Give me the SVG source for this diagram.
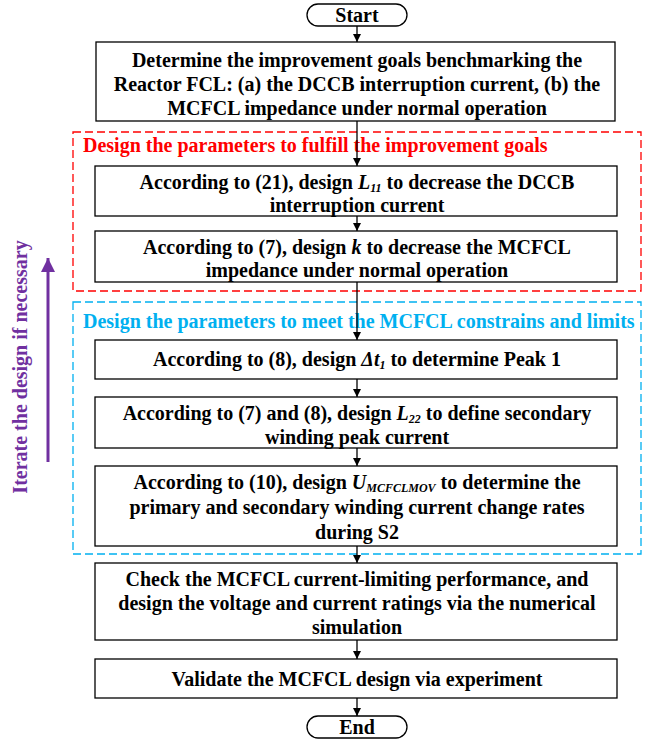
<svg xmlns="http://www.w3.org/2000/svg" width="657" height="744" viewBox="0 0 657 744">
<style>
text{font-family:"Liberation Serif","Times New Roman",serif;font-weight:bold;font-size:20px;fill:#000;text-anchor:middle}
.box{fill:#fff;stroke:#000;stroke-width:1.3}
.conn line{stroke:#000;stroke-width:1.3}
.i{font-style:italic}
.s{font-style:italic;font-size:12px}
.red{fill:#ff0000;text-anchor:start}
.blue{fill:#00b0f0;text-anchor:start}
</style>
<defs>
<marker id="ah" viewBox="0 0 10 10" refX="10" refY="5" markerWidth="8" markerHeight="9" markerUnits="userSpaceOnUse" orient="auto"><path d="M0,0L10,5L0,10z" fill="#000"/></marker>
<marker id="ahp" viewBox="0 0 10 10" refX="10" refY="5" markerWidth="14" markerHeight="14" markerUnits="userSpaceOnUse" orient="auto"><path d="M0,0L10,5L0,10z" fill="#7030a0"/></marker>
</defs>
<rect x="73" y="132" width="568" height="159" fill="none" stroke="#ff0000" stroke-width="1.3" stroke-dasharray="8,4"/>
<rect x="73" y="302" width="568" height="252" fill="none" stroke="#00b0f0" stroke-width="1.3" stroke-dasharray="8,4"/>
<text class="red" x="83" y="152">Design the parameters to fulfill the improvement goals</text>
<text class="blue" x="83" y="328">Design the parameters to meet the MCFCL constrains and limits</text>
<g class="conn">
<line x1="357" y1="26" x2="357" y2="42" marker-end="url(#ah)"/>
<line x1="357" y1="121" x2="357" y2="166" marker-end="url(#ah)"/>
<line x1="357" y1="216" x2="357" y2="231" marker-end="url(#ah)"/>
<line x1="357" y1="282" x2="357" y2="340" marker-end="url(#ah)"/>
<line x1="357" y1="379" x2="357" y2="397" marker-end="url(#ah)"/>
<line x1="357" y1="448" x2="357" y2="466" marker-end="url(#ah)"/>
<line x1="357" y1="546" x2="357" y2="563" marker-end="url(#ah)"/>
<line x1="357" y1="640" x2="357" y2="659" marker-end="url(#ah)"/>
<line x1="357" y1="698" x2="357" y2="716" marker-end="url(#ah)"/>
<line x1="48" y1="462" x2="48" y2="258" style="stroke:#7030a0;stroke-width:3" marker-end="url(#ahp)"/>
</g>
<text x="27" y="367" transform="rotate(-90 27 367)" style="fill:#7030a0">Iterate the design if necessary</text>
<g id="start"><rect class="box" x="307" y="4" width="100" height="22" rx="11"/><text x="357" y="22">Start</text></g>
<g id="n1"><rect class="box" x="96" y="42" width="519" height="79"/>
<text x="357" y="67">Determine the improvement goals benchmarking the</text>
<text x="357" y="91">Reactor FCL: (a) the DCCB interruption current, (b) the</text>
<text x="357" y="115">MCFCL impedance under normal operation</text></g>
<g id="n2"><rect class="box" x="95" y="166" width="522" height="50"/>
<text x="357" y="189">According to (21), design <tspan class="i">L</tspan><tspan class="s" dy="3">11</tspan><tspan dy="-3"> to decrease the DCCB</tspan></text>
<text x="357" y="212">interruption current</text></g>
<g id="n3"><rect class="box" x="95" y="231" width="522" height="51"/>
<text x="357" y="254">According to (7), design <tspan class="i">k</tspan> to decrease the MCFCL</text>
<text x="357" y="277">impedance under normal operation</text></g>
<g id="n4"><rect class="box" x="95" y="340" width="522" height="39"/>
<text x="357" y="366">According to (8), design  <tspan class="i">Δt</tspan><tspan class="s" dy="3">1</tspan><tspan dy="-3"> to determine Peak 1</tspan></text></g>
<g id="n5"><rect class="box" x="95" y="397" width="522" height="51"/>
<text x="357" y="420">According to (7) and (8), design <tspan class="i">L</tspan><tspan class="s" dy="3">22</tspan><tspan dy="-3"> to define secondary</tspan></text>
<text x="357" y="444">winding peak current</text></g>
<g id="n6"><rect class="box" x="95" y="466" width="522" height="80"/>
<text x="357" y="489">According to (10), design <tspan class="i">U</tspan><tspan class="s" dy="3">MCFCLMOV</tspan><tspan dy="-3">  to determine the</tspan></text>
<text x="357" y="514">primary and secondary winding current change rates</text>
<text x="357" y="539">during S2</text></g>
<g id="n7"><rect class="box" x="95" y="563" width="522" height="77"/>
<text x="357" y="586">Check the MCFCL current-limiting performance, and</text>
<text x="357" y="610">design the voltage and current ratings via the numerical</text>
<text x="357" y="634">simulation</text></g>
<g id="n8"><rect class="box" x="95" y="659" width="522" height="39"/>
<text x="357" y="686">Validate the MCFCL design via experiment</text></g>
<g id="end"><rect class="box" x="307" y="716" width="100" height="22" rx="11"/><text x="357" y="734">End</text></g>
</svg>
